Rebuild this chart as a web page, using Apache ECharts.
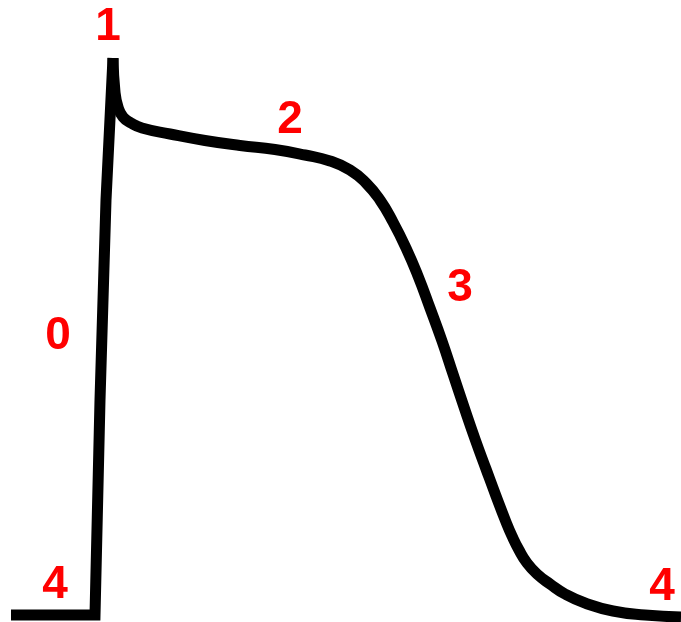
<!DOCTYPE html>
<html>
<head>
<meta charset="utf-8">
<title>Cardiac action potential</title>
<script src="https://cdn.jsdelivr.net/npm/echarts@6/dist/echarts.min.js"></script>
<style>
  html, body { margin: 0; padding: 0; background: #ffffff; }
  #chart { width: 681px; height: 622px; }
</style>
</head>
<body>
<div id="chart"></div>
<script>
// Time (arbitrary units) and membrane potential (arbitrary units, up = more positive)
// Phase 4 rest + phase 0 upstroke (straight segments)
const upstrokeTime = [11, 95, 100, 106, 113];
const upstrokeV    = [7, 7, 222, 422, 564];

// Phase 1 notch, phase 2 plateau, phase 3 repolarisation, back to phase 4
const repolTime = [113, 115, 118, 123, 131, 142, 170, 205, 240, 275, 305, 330, 350, 366, 380, 393, 406, 418, 430, 442, 453, 464, 475, 486, 496, 506, 512, 519, 527, 537, 550, 565, 585, 613, 645, 681];
const repolV    = [564, 530, 515, 505, 499, 494, 488, 481.5, 476.5, 472.5, 467, 461, 452, 439, 422, 400, 374, 346, 314, 281, 248, 215, 183, 153, 126, 100, 86, 72, 59, 48, 38, 28, 19, 11, 7, 5];

// Phase labels
const phaseNames = ['1', '2', '3', '0', '4', '4'];
const phaseTime  = [108, 290, 460, 58, 55, 662];
const phaseV     = [595, 502, 334, 286, 37, 35];

const chart = echarts.init(document.getElementById('chart'), null, { renderer: 'canvas' });

const lineStyle = { color: '#000000', width: 11, cap: 'butt', join: 'miter', miterLimit: 10 };

chart.setOption({
  backgroundColor: '#ffffff',
  animation: false,
  grid: { left: 0, right: 0, top: 0, bottom: 0, containLabel: false },
  xAxis: { type: 'value', min: 0, max: 681, show: false },
  yAxis: { type: 'value', min: 0, max: 622, show: false },
  series: [
    {
      type: 'line',
      data: upstrokeTime.map((t, i) => [t, upstrokeV[i]]),
      showSymbol: false,
      smooth: false,
      lineStyle: lineStyle,
      clip: false
    },
    {
      type: 'line',
      data: repolTime.map((t, i) => [t, repolV[i]]),
      showSymbol: false,
      smooth: 0.5,
      lineStyle: lineStyle,
      clip: false
    },
    {
      type: 'scatter',
      data: phaseNames.map((n, i) => ({ name: n, value: [phaseTime[i], phaseV[i]] })),
      symbolSize: 0,
      itemStyle: { opacity: 1 },
      label: {
        show: true,
        position: 'inside',
        formatter: '{b}',
        color: '#ff0000',
        fontFamily: '"Liberation Sans", Arial, sans-serif',
        fontWeight: 'bold',
        fontSize: 46
      }
    }
  ]
});
</script>
</body>
</html>
